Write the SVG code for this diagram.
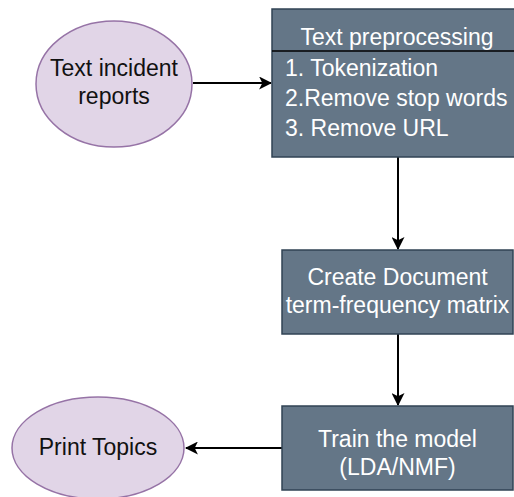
<svg xmlns="http://www.w3.org/2000/svg" width="514" height="497" viewBox="0 0 514 497">
<defs>
<style>
.box{fill:#647687;stroke:#314354;stroke-width:1.5}
.ell{fill:#e1d5e7;stroke:#9673a6;stroke-width:1.5}
.wt{fill:#ffffff;font-family:"Liberation Sans",Arial,sans-serif;font-size:23px}
.dt{fill:#111111;font-family:"Liberation Sans",Arial,sans-serif;font-size:23px}
.c{text-anchor:middle}
.edge{fill:none;stroke:#000000;stroke-width:2}
</style>
<marker id="arr" viewBox="0 0 12 12" refX="11" refY="6" markerWidth="13" markerHeight="13" markerUnits="userSpaceOnUse" orient="auto">
<path d="M0,0 L12,6 L0,12 L3,6 Z" fill="#000000"/>
</marker>
</defs>
<g id="connectors">
<line class="edge" x1="193" y1="83" x2="271" y2="83" marker-end="url(#arr)"/>
<line class="edge" x1="398" y1="157" x2="398" y2="249" marker-end="url(#arr)"/>
<line class="edge" x1="398" y1="334" x2="398" y2="405" marker-end="url(#arr)"/>
<line class="edge" x1="282" y1="448" x2="186" y2="448" marker-end="url(#arr)"/>
</g>
<g id="node-reports">
<ellipse class="ell" cx="114" cy="84" rx="78" ry="63"/>
<text class="dt c" x="114" y="76">Text incident</text>
<text class="dt c" x="114" y="104">reports</text>
</g>
<g id="node-preprocessing">
<rect class="box" x="272" y="9" width="244" height="148"/>
<line x1="272" y1="51" x2="516" y2="51" stroke="#000000" stroke-width="1.5"/>
<text class="wt c" x="397" y="45">Text preprocessing</text>
<text class="wt" x="285" y="76">1. Tokenization</text>
<text class="wt" x="285" y="106">2.Remove stop words</text>
<text class="wt" x="285" y="136">3. Remove URL</text>
</g>
<g id="node-matrix">
<rect class="box" x="282" y="250" width="231" height="84"/>
<text class="wt c" x="397.5" y="285">Create Document</text>
<text class="wt c" x="397.5" y="313">term-frequency matrix</text>
</g>
<g id="node-train">
<rect class="box" x="282" y="406" width="231" height="84"/>
<text class="wt c" x="397.5" y="447">Train the model</text>
<text class="wt c" x="397.5" y="475">(LDA/NMF)</text>
</g>
<g id="node-print">
<ellipse class="ell" cx="98" cy="448" rx="86" ry="51"/>
<text class="dt c" x="98" y="455">Print Topics</text>
</g>
</svg>
